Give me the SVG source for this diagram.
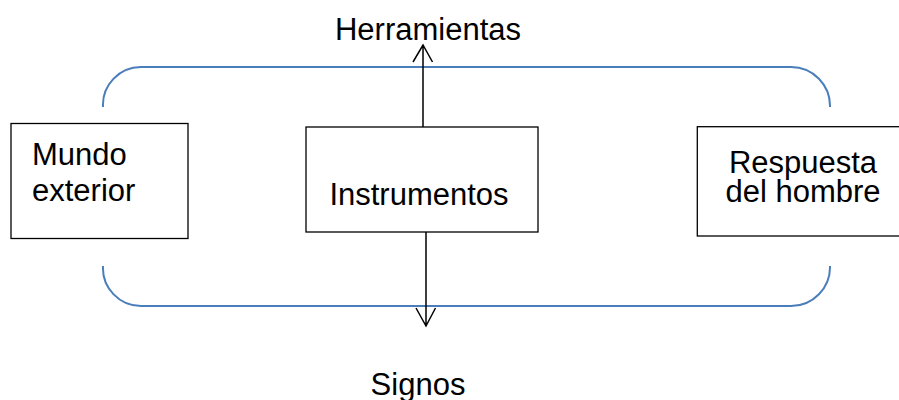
<svg xmlns="http://www.w3.org/2000/svg" width="899" height="400" viewBox="0 0 899 400">
<style>
.box{fill:#fff;stroke:#000;stroke-width:1.3}
.t{font-family:"Liberation Sans",Arial,sans-serif;font-size:31px;fill:#000}
.br{fill:none;stroke:#4a7ebb;stroke-width:2}
.ar{fill:none;stroke:#000;stroke-width:1.5}
</style>
<rect width="899" height="400" fill="#fff"/>
<g id="brackets">
<path class="br" d="M103,107 A38,38 0 0 1 141,67 L791,67 A39,39 0 0 1 830,107"/>
<path class="br" d="M103,266 A38,38 0 0 0 141,306 L791,306 A39,39 0 0 0 830,266"/>
</g>
<g id="mundo">
<rect class="box" x="11" y="123.5" width="177" height="115"/>
<text class="t" x="32" y="165">Mundo</text>
<text class="t" x="32" y="201">exterior</text>
</g>
<g id="instrumentos">
<rect class="box" x="306" y="127" width="232" height="105"/>
<text class="t" x="419" y="205" text-anchor="middle">Instrumentos</text>
</g>
<g id="respuesta">
<rect class="box" x="697.3" y="126.7" width="210" height="109.3"/>
<text class="t" x="803" y="173" text-anchor="middle">Respuesta</text>
<text class="t" x="803" y="201.5" text-anchor="middle">del hombre</text>
</g>
<g id="herramientas">
<text class="t" x="428" y="39.5" text-anchor="middle">Herramientas</text>
</g>
<g id="signos">
<text class="t" x="418" y="395" text-anchor="middle">Signos</text>
</g>
<g id="connectors">
<path class="ar" d="M423,127 L423,45 M413,62 L423,45 L432.5,62"/>
<path class="ar" d="M426,232 L426,326 M416,308 L426,326 L435.5,308"/>
</g>
</svg>
